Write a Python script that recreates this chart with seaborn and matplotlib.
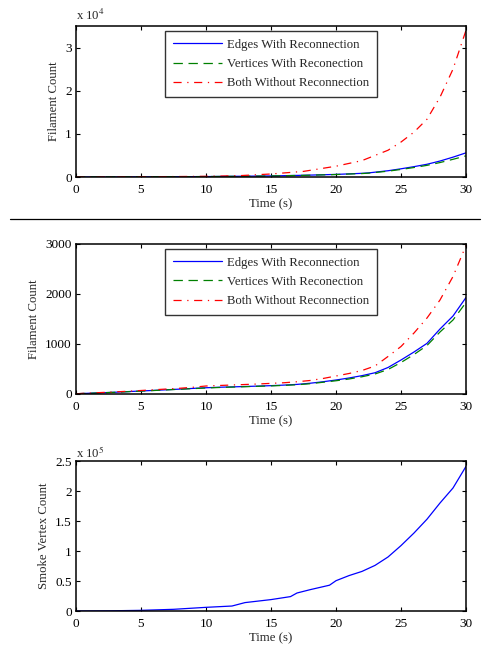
import numpy as np
import pandas as pd
import matplotlib
matplotlib.use("Agg")
import matplotlib.pyplot as plt
from matplotlib.ticker import FuncFormatter
from matplotlib.lines import Line2D
import seaborn as sns

# ---- data ----
t1 = [0, 2.5, 5, 7.5, 10, 12.5, 15, 17.5, 20, 22, 22.5, 24, 25, 26, 27, 28, 29, 30]
edges1 = [0, 20, 40, 70, 100, 170, 250, 400, 600, 850, 950, 1450, 1900, 2400, 2950, 3700, 4600, 5600]
verts1 = [0, 20, 40, 70, 100, 165, 240, 380, 570, 800, 890, 1350, 1750, 2200, 2700, 3350, 4100, 4900]
both1 = [10, 30, 60, 100, 160, 300, 700, 1300, 2500, 3800, 4400, 6200, 8100, 10400, 13400, 18500, 25000, 34000]

t2 = list(range(0, 31))
edges2 = [5, 15, 25, 35, 48, 60, 72, 85, 98, 112, 125, 135, 142, 150, 158, 167, 178, 192,
          215, 245, 280, 320, 367, 425, 530, 680, 840, 1013, 1300, 1560, 1930]
verts2 = [5, 14, 24, 34, 46, 58, 70, 83, 95, 108, 120, 130, 138, 146, 154, 162, 172, 185,
          205, 235, 265, 300, 345, 400, 490, 630, 790, 970, 1240, 1480, 1830]
both2 = [5, 18, 30, 42, 55, 70, 85, 100, 115, 135, 160, 170, 180, 190, 200, 213, 225, 245,
         270, 310, 360, 410, 470, 560, 750, 950, 1220, 1520, 1880, 2350, 2970]

t3 = [0, 2.5, 5, 7.5, 10, 12, 13, 15, 16.5, 17, 18, 19.5, 20, 21, 22, 23, 24, 25, 26, 27, 28, 29, 30]
smoke3 = [0, 300, 1100, 2800, 6100, 8300, 14000, 19000, 24000, 30000, 35500, 43000, 50500,
          59000, 66000, 76000, 90000, 109000, 130000, 153000, 180000, 205000, 241000]

labels = ["Edges With Reconnection", "Vertices With Reconection", "Both Without Reconnection"]
colors = ["#0000ff", "#008000", "#ff0000"]
dashes = ["", (7.5, 4.5), (6.5, 4.5, 1, 4.5)]

sns.set_style("ticks")
plt.rcParams["font.family"] = ["Liberation Serif", "DejaVu Serif"]
plt.rcParams["mathtext.fontset"] = "stix"
FS = 9.2

fig = plt.figure(figsize=(4.85, 6.49), dpi=100)
W, H = 485, 649
def pos(top, bottom, left=76, right=466):
    return [left / W, 1 - bottom / H, (right - left) / W, (bottom - top) / H]

ax1 = fig.add_axes(pos(26, 177))
ax2 = fig.add_axes(pos(244, 394))
ax3 = fig.add_axes(pos(461, 611))

def long_df(t, series):
    frames = []
    for lab, vals in zip(labels, series):
        frames.append(pd.DataFrame({"t": t, "v": vals, "s": lab}))
    return pd.concat(frames, ignore_index=True)

df1 = long_df(t1, [edges1, verts1, both1])
df2 = long_df(t2, [edges2, verts2, both2])
df3 = pd.DataFrame({"t": t3, "v": smoke3})

pal = dict(zip(labels, colors))
dsh = dict(zip(labels, dashes))
for ax, df in [(ax1, df1), (ax2, df2)]:
    sns.lineplot(data=df, x="t", y="v", hue="s", style="s", palette=pal, dashes=dsh,
                 hue_order=labels, style_order=labels, ax=ax, lw=0.9, legend=False)
sns.lineplot(data=df3, x="t", y="v", color="#0000ff", ax=ax3, lw=0.9)

def style_axes(ax, ylim, yticks, ylabel):
    ax.set_xlim(0, 30)
    ax.set_ylim(*ylim)
    ax.set_xticks([0, 5, 10, 15, 20, 25, 30])
    ax.set_yticks(yticks)
    ax.tick_params(direction="in", length=3, width=0.8, top=True, right=True,
                   labelsize=FS + 0.3, colors="black")
    ax.tick_params(axis="x", pad=5)
    ax.tick_params(axis="y", pad=3)
    for s in ax.spines.values():
        s.set_visible(True)
        s.set_linewidth(1.1)
        s.set_color("black")
    ax.set_xlabel("Time (s)", fontsize=FS, labelpad=1.5)
    ax.set_ylabel(ylabel, fontsize=FS, labelpad=4)

style_axes(ax1, (0, 35000), [0, 10000, 20000, 30000], "Filament Count")
ax1.yaxis.set_major_formatter(FuncFormatter(lambda v, p: f"{v/1e4:g}"))
ax1.text(0, 1.02, r"x 10$^{4}$", transform=ax1.transAxes, fontsize=FS, ha="left", va="bottom")

style_axes(ax2, (0, 3000), [0, 1000, 2000, 3000], "Filament Count")

style_axes(ax3, (0, 250000), [0, 50000, 100000, 150000, 200000, 250000], "Smoke Vertex Count")
ax3.yaxis.set_major_formatter(FuncFormatter(lambda v, p: f"{v/1e5:g}"))
ax3.text(0, 1.0, r"x 10$^{5}$", transform=ax3.transAxes, fontsize=FS, ha="left", va="bottom")

handles = [Line2D([], [], color=c, lw=0.9, dashes=d if d else (None, None), linestyle="-")
           for c, d in zip(colors, dashes)]
for ax in (ax1, ax2):
    leg = ax.legend(handles, labels, loc="upper center", bbox_to_anchor=(0.5, 0.965),
                    borderaxespad=0, fontsize=FS, frameon=True, fancybox=False,
                    handlelength=3.85, labelspacing=0.55, borderpad=0.6, handletextpad=0.4)
    leg.get_frame().set_edgecolor("black")
    leg.get_frame().set_linewidth(1.0)

fig.add_artist(Line2D([0.02, 0.99], [1 - 219 / H, 1 - 219 / H], color="black", lw=0.9))

fig.savefig("out.png", dpi=100, facecolor="white")
